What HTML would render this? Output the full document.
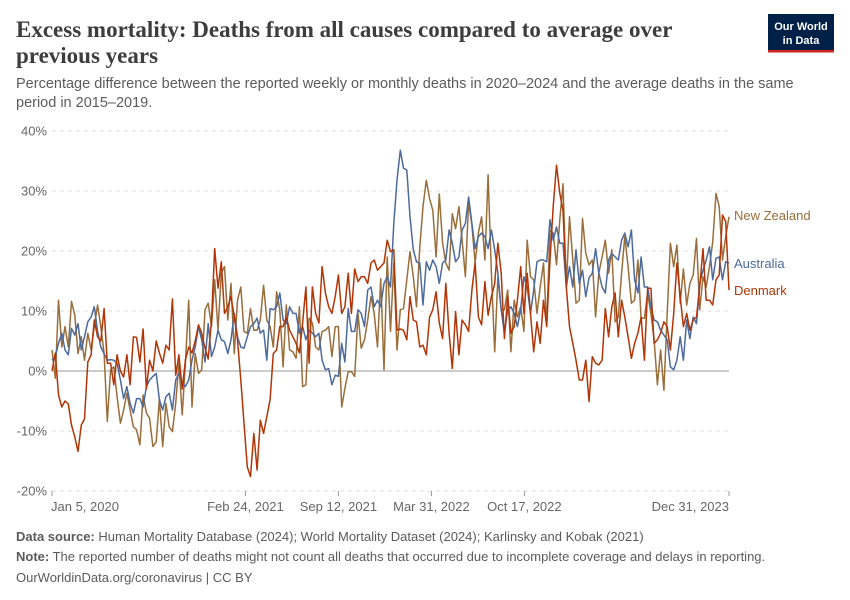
<!DOCTYPE html>
<html><head><meta charset="utf-8"><style>
body{margin:0;background:#fff;width:850px;height:600px;overflow:hidden;font-family:"Liberation Sans",sans-serif}
svg{display:block}
</style></head><body>
<svg id="chart" width="850" height="600" viewBox="0 0 850 600">
<text x="16" y="37" font-family="Liberation Serif,serif" font-size="23" font-weight="bold" fill="#3d3d3d">Excess mortality: Deaths from all causes compared to average over</text>
<text x="16" y="63" font-family="Liberation Serif,serif" font-size="23" font-weight="bold" fill="#3d3d3d">previous years</text>
<text x="16" y="88" font-size="14.5" fill="#5b5b5b">Percentage difference between the reported weekly or monthly deaths in 2020–2024 and the average deaths in the same</text>
<text x="16" y="107" font-size="14.5" fill="#5b5b5b">period in 2015–2019.</text>
<g>
<rect x="768" y="14" width="66" height="38" fill="#002147"/>
<rect x="768" y="50" width="66" height="2.5" fill="#ce261e"/>
<text x="801" y="30" font-size="11" fill="#fff" text-anchor="middle" font-weight="bold">Our World</text>
<text x="801" y="44" font-size="11" fill="#fff" text-anchor="middle" font-weight="bold">in Data</text>
</g>
<g id="grid"></g>
<g id="lines"></g>
<g id="xaxis"></g>
<text x="734" y="220" font-size="13" fill="#9a6e3b">New Zealand</text>
<text x="734" y="268" font-size="13" fill="#4c6a9c">Australia</text>
<text x="734" y="295" font-size="13" fill="#b13507">Denmark</text>
<text x="16" y="541" font-size="13" fill="#5b5b5b"><tspan font-weight="bold">Data source:</tspan> Human Mortality Database (2024); World Mortality Dataset (2024); Karlinsky and Kobak (2021)</text>
<text x="16" y="561" font-size="13" fill="#5b5b5b"><tspan font-weight="bold">Note:</tspan> The reported number of deaths might not count all deaths that occurred due to incomplete coverage and delays in reporting.</text>
<text x="16" y="582" font-size="13" fill="#5b5b5b">OurWorldinData.org/coronavirus | CC BY</text>
</svg>
<script>
const yTicks=[-20,-10,0,10,20,30,40];
const yTickLabels=["-20%","-10%","0%","10%","20%","30%","40%"];
const xTickDays=[0,416,616,816,1016,1456];
const xTickLabels=["Jan 5, 2020","Feb 24, 2021","Sep 12, 2021","Mar 31, 2022","Oct 17, 2022","Dec 31, 2023"];
const denmark=[0,3,-4,-6,-5,-5.5,-9,-11,-13.4,-9,-8,1.5,2.7,8.5,5.7,5,10.4,1.3,1.3,-2.3,2.7,0,-1,2.7,-2.3,5.7,5.6,1.5,7,-3,1.8,0,5,3,1.3,4.3,3.5,12,-0.7,2.7,-3,1.8,4,3,5,7.7,6.3,3.8,2,8.5,20.4,13.8,18.2,9.6,
10.7,12.4,9,5.2,-1.5,-8.7,-16,-17.6,-10.4,-16.5,-8.2,-10.4,-7.6,-4.8,2.9,3.5,7.4,7.4,9,6.8,5.7,4.6,3,8,14,1.3,14,9.6,8,17.4,13,10.7,9.6,12.4,16,9.6,10.7,16.3,9.6,17,14.9,15.7,15.7,14.6,18,18.5,16.8,17.4,18,21.8,19.9,20.2,
6.8,7,6.8,5.2,12.4,8.5,8.2,4,4.3,2.7,9,10.2,13.2,8,5.4,14.6,6.3,0.4,9.9,2.7,8.5,7.7,6.6,13.5,18,9,7.7,14.9,9.3,12.4,14.6,21.3,16.3,5.4,12.4,6.3,7.4,11.8,17.4,9.6,16.3,9.6,3.2,8.2,4.6,11.8,7.4,18.5,27.4,34.3,29.6,26.8,
14,7.4,4.6,1.8,-1.5,-1.5,1.8,-5.1,2.4,1.3,1,1.8,10.4,5.7,10.7,13,5.7,11.8,9,5.7,2.1,4.6,6.3,9,1.8,13.8,13.8,4.6,5.2,6.3,8.2,7.4,3.5,9.6,18,12.4,7.4,9.6,6.8,8.5,9,14,20.4,11.8,11.8,11,15.2,16,26,24.9,13.5];
const australia=[1.8,2.4,4.6,6.3,3.5,2.7,7.1,6,7.9,3.5,5.7,8.2,9,10.7,6.6,4,2.9,1.8,1.9,1.8,1.3,-1.5,-4.6,-2.6,-5.4,-7,-4.6,-4.6,-6,-2.6,-1.5,-0.9,-0.4,-4.8,-6.5,-4.3,-3.7,-6.5,-1.5,-0.4,-2,-2.6,-1.5,1.8,4,7.4,5.2,1.5,7.9,2.4,4,6.8,5.2,4.9,
2.9,5.2,9.6,5.7,4,3.8,5.7,7.4,7.9,8.8,6.3,6.8,1.8,10.4,10.2,10.7,13,8.5,7.9,10.7,9.6,9.6,6.3,7.4,5.2,6.8,6.3,5.7,6.3,1.8,0.2,0.4,-2.3,-0.7,-0.9,4.6,1.5,10.4,6.6,6.6,10.2,9.6,7.4,13.5,14,10.7,11.8,10.7,14.6,15.7,14,24.6,
31.8,36.8,33.8,33.5,25.7,20.2,18.2,18,11,18.2,16.8,18.5,17.4,14.6,18,18.5,23.5,21.3,18.2,19,23.5,24.6,29,24.6,20.4,22.4,23,22.4,20.4,23.5,20.2,16.3,10.2,6.3,10.2,10.7,9.6,7.4,10.2,15.7,14,9.6,13.5,18.2,18.5,18.5,18.2,25.2,21.8,24,21.3,21.3,
14,17.4,14,20.2,14.6,16.8,12.4,15.5,16.3,20.4,16.3,14,13,18.5,19.6,19,18.5,21.8,23,20.7,23.5,15.2,13,19,14,14,10.7,8.5,8.2,6.8,6,5.2,0.7,0.2,1.8,5.7,1.8,8.5,5.4,9,7.9,14.6,16.8,18.5,20.7,15.2,18.8,19,15.2,18.2,18];
const newZealand=[3.5,-1.2,11.8,4,7.4,4,11.6,9.3,2.9,5.7,1.8,6.3,3.5,7.4,11,7.4,2.9,-8.4,0.2,0.7,-4.3,-8.7,-6.5,-3.7,-6.5,-9.3,-9.8,-12.3,-4,-7,-7.9,-12.6,-11.8,-4.6,-12.6,-5.4,-9.3,-10.1,-5.4,1.3,-7.3,1.3,11.8,-6,2.9,-0.4,0.2,10.2,11.3,7.4,15.2,6.8,16.3,17.4,
8.5,14.6,2.9,11.8,14,6.6,6.3,10.4,6.8,6.8,8.5,14.3,8.5,7.4,4,13.2,10.2,0.7,11,3.5,3.2,2.1,10.7,-2.6,-2.3,8.8,8,4,3.5,6.6,6.8,7.4,2.4,7.4,7.4,-6,-2.9,-0.1,-0.1,-0.9,9.6,3.8,5.2,8.5,12.4,9.6,4,15.4,0.2,19,6.6,18,
3.5,10.2,10.4,15.2,19.9,15.7,10.7,20.7,27.4,31.8,28.7,26.8,19,29.5,21.3,18,16.8,26.2,23.7,27.4,21.8,15.7,28.2,24.3,18,23,25.7,18.5,32.7,16.3,3.2,15.7,10.2,10.2,13.5,3.2,11.8,9,10.7,6.6,21.8,15.7,15.2,9.6,14,18,7.7,23.5,23,17.7,25.2,31.2,
14,25.7,18.5,11.3,11.8,25.4,19.6,17.7,18.5,9,16.3,19,21.8,16.3,20.2,8.2,9,16.3,22.4,17.4,11.3,11.8,18.5,8.8,8.8,13,9.6,5.2,-2.3,3.5,-3.2,9.6,21.3,17.4,21,11.3,17,11,14.6,16,22.1,10.2,15.7,14,17.4,21.5,29.6,27.4,18.5,22.4,25.7];

const NS="http://www.w3.org/2000/svg";
const X0=52,X1=729,Y0=371,PX=6,TOTAL=1456;
const yScale=v=>Y0-v*PX;
const xDay=d=>X0+(X1-X0)*d/TOTAL;
const xIdx=(i,n)=>X0+(X1-X0)*i/(n-1);
function mk(tag,attrs,parent){const e=document.createElementNS(NS,tag);for(const k in attrs)e.setAttribute(k,attrs[k]);parent.appendChild(e);return e;}
const grid=document.getElementById('grid');
yTicks.forEach((t,i)=>{
  const l=mk('line',{x1:X0,x2:X1,y1:yScale(t),y2:yScale(t),stroke:t===0?'#bbb':'#ddd','stroke-width':t===0?1.5:1,'stroke-dasharray':t===0?'none':'4,4'},grid);
  
  
  const tx=mk('text',{x:47,y:yScale(t)+4.5,'text-anchor':'end','font-size':13,fill:'#666'},grid);
  tx.textContent=yTickLabels[i];
  
  
});
const xa=document.getElementById('xaxis');
xTickDays.forEach((d,i)=>{
  const x=xDay(d);
  const tk=mk('line',{x1:x,x2:x,y1:491,y2:496,stroke:'#999'},xa);
  
  
  const anchor=i===0?'start':(i===xTickDays.length-1?'end':'middle');
  const tx=mk('text',{x:i===0?x-1:x,y:511,'text-anchor':anchor,'font-size':13,fill:'#666'},xa);
  tx.textContent=xTickLabels[i];
  
  
});
const lines=document.getElementById('lines');
[[newZealand,'#9a6e3b','line-new-zealand'],[australia,'#4c6a9c','line-australia'],[denmark,'#b13507','line-denmark']].forEach(([arr,c,name])=>{
  const d=arr.map((v,i)=>(i?'L':'M')+xIdx(i,arr.length).toFixed(1)+','+yScale(v).toFixed(1)).join('');
  const p=mk('path',{d:d,fill:'none',stroke:c,'stroke-width':1.5,'stroke-linejoin':'round'},lines);
  
  
});
</script>
</body></html>
